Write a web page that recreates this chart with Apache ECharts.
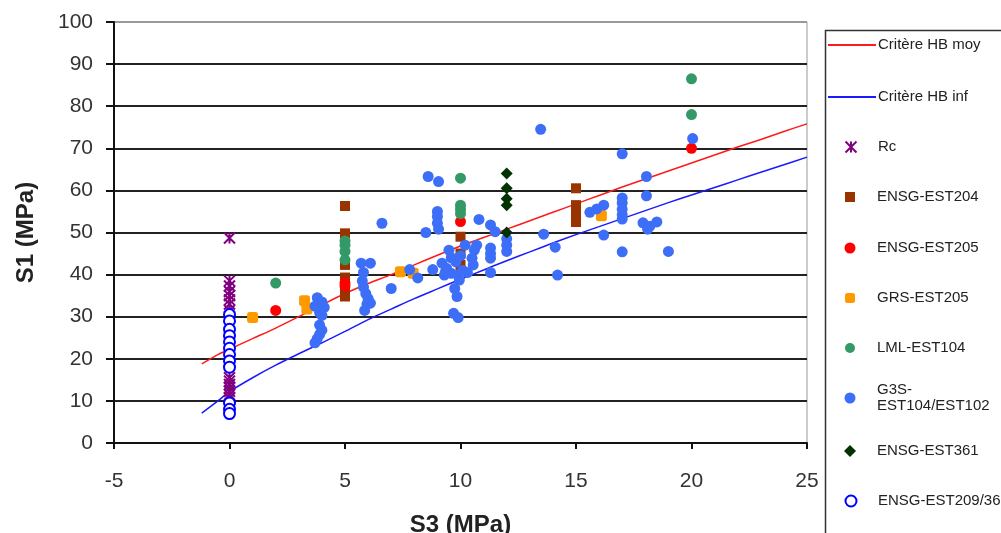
<!DOCTYPE html>
<html>
<head>
<meta charset="utf-8">
<script src="https://cdn.jsdelivr.net/npm/echarts@6/dist/echarts.min.js"></script>
<style>
html,body{margin:0;padding:0;background:#fff;}
#chart{width:1001px;height:533px;}
</style>
</head>
<body>
<div id="chart"></div>
<script>
// ---- Data ----
const s3Curve = [-1.2, -0.5, 0, 1, 2, 3, 4, 5, 6, 7, 8, 9, 10, 11, 12, 13, 14, 15, 16, 17, 18, 19, 20, 21, 22, 23, 24, 25];
const hbMoy   = [18.8, 21.0, 22.3, 24.8, 27.3, 30.0, 32.8, 35.5, 37.9, 40.0, 42.3, 44.6, 46.8, 48.8, 50.8, 52.8, 54.8, 56.8, 58.8, 60.8, 62.7, 64.6, 66.5, 68.4, 70.3, 72.1, 74.0, 75.8];
const hbInf   = [7.1, 10.0, 12.2, 15.5, 18.5, 21.2, 23.8, 26.5, 29.3, 31.8, 34.3, 36.6, 38.9, 41.1, 43.3, 45.4, 47.5, 49.5, 51.4, 53.3, 55.2, 57.1, 58.9, 60.7, 62.5, 64.3, 66.1, 67.9];

const rc = [[0,48.7],[0,38.5],[0,37.3],[0,36],[0,35],[0,34],[0,33],[0,31.5],[0,30],[0,15.5],[0,14.7],[0,13.9],[0,13.1],[0,12.3],[0,11.5],[0,10.7]];
const ensgEst204 = [[5,56.3],[5,49.8],[5,42.3],[5,39.3],[5,35.8],[5,34.8],[10,49],[10,45],[10,42.3],[15,60.5],[15,56.5],[15,55.5],[15,54.5],[15,53.5],[15,52.5]];
const ensgEst205 = [[2,31.5],[5,38],[5,37.3],[10,52.6],[20,70]];
const grsEst205 = [[1,29.8],[3.25,33.8],[3.35,31.8],[7.4,40.7],[7.95,40.3],[16.1,54]];
const lmlEst104 = [[2,38],[5,48],[5,47],[5,45.5],[5,43.5],[10,62.9],[10,56.5],[10,55.5],[10,54.5],[20,86.5],[20,78]];
const g3s = [
  [3.8,34.5],[4.0,33.5],[3.7,32.5],[4.1,32.2],[3.9,31],[4.0,30.3],[3.9,28],[4.0,26.8],[3.9,25.8],[3.8,24.8],[3.7,23.8],
  [5.7,42.7],[6.1,42.7],[5.8,40.5],[5.75,38.5],[5.8,37],[5.9,35.5],[6.0,34.3],[5.95,33],[5.85,31.5],[6.1,33.2],
  [6.6,52.2],[7.0,36.7],[7.8,41.2],[8.15,39.2],[8.5,50],[8.6,63.3],[9.05,62.1],[9.0,55],[9.0,53.8],[9.0,52.2],[9.05,50.8],
  [8.8,41.2],[9.2,42.7],[9.35,40.7],[9.3,39.9],[9.6,40.3],[9.9,39.9],[9.95,38.7],[9.75,36.7],[9.85,34.8],[9.7,30.8],[9.9,29.8],
  [9.5,45.8],[10.2,47],[10.7,47],[10.5,43.9],[10.55,42.3],[9.4,41.5],[10.1,41],[10.3,40.5],[9.8,43],[10.0,44.5],[9.6,44],
  [10.8,53.1],[11.3,51.8],[11.5,50.2],[11.3,46.3],[11.3,45],[11.3,43.9],[11.3,40.5],[10.6,45.8],[12,48.5],[12,47],[12,45.5],
  [13.47,74.5],[13.6,49.6],[14.1,46.5],[14.2,39.9],[15.6,54.8],[15.9,55.6],[16.2,56.5],[16.2,49.4],
  [17,68.7],[17,58.2],[17,57],[17,55.5],[17,54.2],[17,53.2],[17,45.4],[18.05,63.3],[18.05,58.7],
  [17.9,52.3],[18.2,51.5],[18.5,52.5],[18.1,50.8],[19.0,45.5],[20.05,72.3]
];
const ensgEst361 = [[12,64],[12,60.5],[12,58],[12,56.5],[12,50]];
const ensgEst209 = [[0,30.5],[0,29],[0,27],[0,25.5],[0,24],[0,22.5],[0,21],[0,19.5],[0,18],[0,9.5],[0,8],[0,7]];

const seriesNames = ['Critère HB moy','Critère HB inf','Rc','ENSG-EST204','ENSG-EST205','GRS-EST205','LML-EST104','G3S-EST104/EST102','ENSG-EST361','ENSG-EST209/36'];

// ---- Chart ----
const FONT = '"Liberation Sans", Arial, sans-serif';
const starPath = 'path://M0,0L10,10M10,0L0,10M5,0L5,10';

function zipXY(xs, ys){ return xs.map((x,i)=>[x, ys[i]]); }

const legendText = {fontFamily: FONT, fontSize: 15, color: '#222', lineHeight: 16};
function lineLegend(name, top){
  return {left: 828, top: top, padding: 0, selectedMode: false, itemWidth: 48, itemHeight: 2,
    icon: 'rect', data: [name], textStyle: Object.assign({}, legendText, {padding:[0,0,0,-3]})};
}
function markLegend(name, top, icon, padTop, size){
  const s = size || 10;
  const padLeft = 22 - s / 2;
  return {left: 850 - s/2, top: top, padding: 0, selectedMode: false, itemWidth: s, itemHeight: s,
    icon: icon, data: [name], formatter: name === 'G3S-EST104/EST102' ? 'G3S-\nEST104/EST102' : '{name}',
    textStyle: Object.assign({}, legendText, {padding: [padTop || 0, 0, 0, padLeft]})};
}

const chart = echarts.init(document.getElementById('chart'), null, {renderer: 'canvas'});
chart.setOption({
  animation: false,
  backgroundColor: '#fff',
  textStyle: {fontFamily: FONT},
  grid: {left: 114, right: 194, top: 22, bottom: 90, containLabel: false, outerBoundsMode: 'none',
    show: true, borderColor: '#999', borderWidth: 1, backgroundColor: 'transparent'},
  xAxis: {
    type: 'value', min: -5, max: 25, interval: 5,
    name: 'S3 (MPa)', nameLocation: 'middle', nameGap: 70,
    nameTextStyle: {fontFamily: FONT, fontSize: 24, fontWeight: 'bold', color: '#222'},
    axisLine: {onZero: false, lineStyle: {color: '#111', width: 2}},
    axisTick: {show: true, length: 6, lineStyle: {color: '#111', width: 2}},
    axisLabel: {fontFamily: FONT, fontSize: 21, color: '#333', margin: 28},
    splitLine: {show: false}
  },
  yAxis: {
    type: 'value', min: 0, max: 100, interval: 10,
    name: 'S1 (MPa)', nameLocation: 'middle', nameGap: 76, nameRotate: 90,
    nameTextStyle: {fontFamily: FONT, fontSize: 24, fontWeight: 'bold', color: '#222'},
    axisLine: {onZero: false, lineStyle: {color: '#111', width: 2}},
    axisTick: {show: true, length: 8, lineStyle: {color: '#111', width: 2}},
    axisLabel: {fontFamily: FONT, fontSize: 21, color: '#333', margin: 21},
    splitLine: {show: true, lineStyle: {width: 2, color: ['#222','#222','#222','#222','#222','#222','#222','#222','#222','#222','#999']}}
  },
  legend: [
    lineLegend(seriesNames[0], 37),
    lineLegend(seriesNames[1], 89),
    markLegend(seriesNames[2], 139, starPath, 0, 11),
    markLegend(seriesNames[3], 189, 'rect', 0, 10),
    markLegend(seriesNames[4], 240, 'circle', 0, 11),
    markLegend(seriesNames[5], 290, 'roundRect', 0, 10),
    markLegend(seriesNames[6], 340, 'circle', 0, 10),
    markLegend(seriesNames[7], 374, 'circle', 16, 11),
    markLegend(seriesNames[8], 443, 'diamond', 0, 12),
    markLegend(seriesNames[9], 493, 'circle', 0, 11)
  ],
  graphic: [{
    type: 'rect', left: 823, top: 28, z: -10, silent: true,
    shape: {width: 200, height: 520},
    style: {fill: 'none', stroke: '#333', lineWidth: 1.5}
  }],
  series: [
    {name: seriesNames[0], type: 'line', data: zipXY(s3Curve, hbMoy), smooth: 0.3, showSymbol: false, symbol: 'none',
      lineStyle: {color: '#ff1a1a', width: 1.5}, itemStyle: {color: '#ff1a1a'}, z: 2},
    {name: seriesNames[1], type: 'line', data: zipXY(s3Curve, hbInf), smooth: 0.3, showSymbol: false, symbol: 'none',
      lineStyle: {color: '#1a1aff', width: 1.5}, itemStyle: {color: '#1a1aff'}, z: 2},
    {name: seriesNames[2], type: 'scatter', data: rc, symbol: starPath, symbolSize: 11,
      itemStyle: {color: 'rgba(0,0,0,0)', borderColor: '#800080', borderWidth: 2, opacity: 1}, z: 3},
    {name: seriesNames[3], type: 'scatter', data: ensgEst204, symbol: 'rect', symbolSize: 10,
      itemStyle: {color: '#993300', opacity: 1}, z: 3},
    {name: seriesNames[4], type: 'scatter', data: ensgEst205, symbol: 'circle', symbolSize: 11,
      itemStyle: {color: '#ff0000', opacity: 1}, z: 3},
    {name: seriesNames[5], type: 'scatter', data: grsEst205, symbol: 'roundRect', symbolSize: 11,
      itemStyle: {color: '#ff9900', opacity: 1}, z: 3},
    {name: seriesNames[6], type: 'scatter', data: lmlEst104, symbol: 'circle', symbolSize: 11,
      itemStyle: {color: '#339966', opacity: 1}, z: 3},
    {name: seriesNames[7], type: 'scatter', data: g3s, symbol: 'circle', symbolSize: 11,
      itemStyle: {color: '#3d6ef7', opacity: 1}, z: 3},
    {name: seriesNames[8], type: 'scatter', data: ensgEst361, symbol: 'diamond', symbolSize: 12,
      itemStyle: {color: '#003300', opacity: 1}, z: 3},
    {name: seriesNames[9], type: 'scatter', data: ensgEst209, symbol: 'circle', symbolSize: 11,
      itemStyle: {color: '#ffffff', borderColor: '#0000ff', borderWidth: 2, opacity: 1}, z: 3}
  ]
});
</script>
</body>
</html>
